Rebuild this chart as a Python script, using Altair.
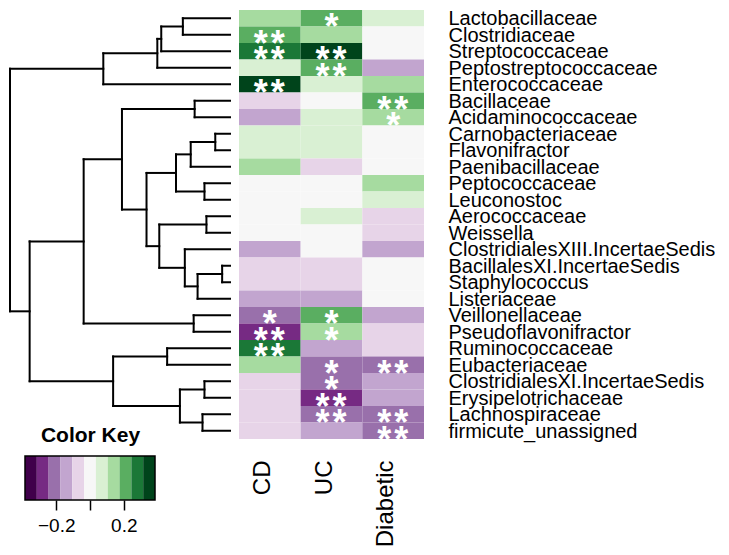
import altair as alt
import pandas as pd

FONT = "Liberation Sans"

rows = ["Lactobacillaceae", "Clostridiaceae", "Streptococcaceae", "Peptostreptococcaceae",
        "Enterococcaceae", "Bacillaceae", "Acidaminococcaceae", "Carnobacteriaceae",
        "Flavonifractor", "Paenibacillaceae", "Peptococcaceae", "Leuconostoc",
        "Aerococcaceae", "Weissella", "ClostridialesXIII.IncertaeSedis",
        "BacillalesXI.IncertaeSedis", "Staphylococcus", "Listeriaceae", "Veillonellaceae",
        "Pseudoflavonifractor", "Ruminococcaceae", "Eubacteriaceae",
        "ClostridialesXI.IncertaeSedis", "Erysipelotrichaceae", "Lachnospiraceae",
        "firmicute_unassigned"]
columns = ["CD", "UC", "Diabetic"]

cd_values = [0.14, 0.21, 0.28, 0.07, 0.35, -0.07, -0.14, 0.07, 0.07, 0.14, 0.0, 0.0, 0.0,
             0.0, -0.14, -0.07, -0.07, -0.14, -0.21, -0.28, 0.28, 0.14, -0.07, -0.07, -0.07, -0.07]
uc_values = [0.21, 0.14, 0.35, 0.21, 0.07, 0.0, 0.07, 0.07, 0.07, -0.07, 0.0, 0.0, 0.07,
             0.0, 0.0, -0.07, -0.07, -0.14, 0.21, 0.14, -0.14, -0.21, -0.21, -0.28, -0.21, -0.14]
diab_values = [0.07, 0.0, 0.0, -0.14, 0.14, 0.21, 0.14, 0.0, 0.0, 0.0, 0.14, 0.07, -0.07,
               -0.07, -0.14, 0.0, 0.0, 0.0, -0.14, -0.07, -0.07, -0.21, -0.14, -0.14, -0.21, -0.21]

cd_stars = ["", "**", "**", "", "**", "", "", "", "", "", "", "", "", "", "", "", "", "",
            "*", "**", "**", "", "", "", "", ""]
uc_stars = ["*", "", "**", "**", "", "", "", "", "", "", "", "", "", "", "", "", "", "",
            "*", "*", "", "*", "*", "**", "**", ""]
diab_stars = ["", "", "", "", "", "**", "*", "", "", "", "", "", "", "", "", "", "", "",
              "", "", "", "**", "", "", "**", "**"]

# dendrogram merges (scipy style: leaves 0..25, new clusters 26..)
merge_left = [0, 26, 27, 28, 5, 7, 31, 10, 32, 12, 15, 36, 14, 35, 34, 30, 18, 41, 20, 22, 24, 45, 44, 43, 29]
merge_right = [1, 2, 3, 4, 6, 8, 9, 11, 33, 13, 16, 17, 37, 38, 39, 40, 19, 42, 21, 23, 25, 46, 47, 48, 49]
merge_height = [0.48, 0.70, 0.74, 1.29, 0.36, 0.15, 0.40, 0.26, 0.55, 0.24, 0.08, 0.33, 0.46,
                0.72, 0.85, 1.10, 0.37, 1.49, 0.64, 0.26, 0.28, 0.51, 1.19, 2.04, 2.24]

key_edges = [-0.385, -0.315, -0.245, -0.175, -0.105, -0.035, 0.035, 0.105, 0.175, 0.245, 0.315, 0.385]
key_ticks = [-0.2, 0.0, 0.2]

PRGN = ["#40004b", "#762a83", "#9970ab", "#c2a5cf", "#e7d4e8", "#f7f7f7",
        "#d9f0d3", "#a6dba0", "#5aae61", "#1b7837", "#00441b"]
color_scale = alt.Scale(type="threshold", domain=key_edges[1:-1], range=PRGN)

# ---------- heatmap data ----------
recs = []
for col, vals, stars in [("CD", cd_values, cd_stars), ("UC", uc_values, uc_stars),
                         ("Diabetic", diab_values, diab_stars)]:
    for r, v, s in zip(rows, vals, stars):
        recs.append({"row": r, "col": col, "value": v, "stars": s})
heat_df = pd.DataFrame(recs)

# ---------- dendrogram segments ----------
n = len(rows)
pos = {i: i + 1 for i in range(n)}
hgt = {i: 0.0 for i in range(n)}
segs = []
for k, (a, b, h) in enumerate(zip(merge_left, merge_right, merge_height)):
    ya, yb = pos[a], pos[b]
    segs.append({"x": h, "x2": h, "y": ya, "y2": yb})
    segs.append({"x": hgt[a], "x2": h, "y": ya, "y2": ya})
    segs.append({"x": hgt[b], "x2": h, "y": yb, "y2": yb})
    pos[n + k] = (ya + yb) / 2
    hgt[n + k] = h
seg_df = pd.DataFrame(segs)

DW, H = 220, 429
dendro_lines = alt.Chart(seg_df).mark_rule(color="black", strokeWidth=2, strokeCap="square").encode(
    x=alt.X("x:Q", scale=alt.Scale(domain=[0, max(merge_height)], reverse=True, nice=False, zero=False), axis=None),
    x2="x2:Q",
    y=alt.Y("y:Q", scale=alt.Scale(domain=[0.5, n + 0.5], reverse=True, nice=False, zero=False), axis=None),
    y2="y2:Q",
)
key_title = alt.Chart(pd.DataFrame({"t": ["Color Key"]})).mark_text(
    font=FONT, fontSize=21, fontWeight="bold", align="center", baseline="alphabetic", color="black"
).encode(x=alt.value(80.5), y=alt.value(432), text="t:N")
dendro = alt.layer(dendro_lines, key_title).properties(width=DW, height=H)

# ---------- color key ----------
key_df = pd.DataFrame({"lo": key_edges[:-1], "hi": key_edges[1:]})
key_df["mid"] = (key_df["lo"] + key_df["hi"]) / 2
key_x_scale = alt.Scale(domain=[key_edges[0], key_edges[-1]], range=[15, 145], nice=False, zero=False)
key_axis = alt.Axis(orient="bottom", values=key_ticks,
                    labelExpr="datum.value == 0 ? '' : datum.label",
                    format=".1f", tickSize=10, tickWidth=1.5, tickColor="black",
                    domain=False, grid=False, labelFontSize=19, labelColor="black",
                    labelFont=FONT, labelPadding=6, title=None)

key_rects = alt.Chart(key_df).mark_rect().encode(
    x=alt.X("lo:Q", scale=key_x_scale, axis=key_axis),
    x2="hi:Q",
    color=alt.Color("mid:Q", scale=color_scale, legend=None),
)
key_border = alt.Chart(pd.DataFrame({"lo": [key_edges[0]], "hi": [key_edges[-1]]})).mark_rect(
    fillOpacity=0, stroke="black", strokeWidth=1.5
).encode(
    x=alt.X("lo:Q", scale=key_x_scale, axis=key_axis),
    x2="hi:Q",
)
key = alt.layer(key_rects, key_border).properties(width=DW, height=44)

left = alt.vconcat(dendro, key, spacing=9)

# ---------- heatmap ----------
HW = 185
base = alt.Chart(heat_df).encode(
    x=alt.X("col:N", sort=columns, scale=alt.Scale(paddingInner=0, paddingOuter=0),
            axis=alt.Axis(orient="bottom", labelAngle=270, labelAlign="right",
                          labelBaseline="alphabetic", labelFontSize=24, labelPadding=21,
                          ticks=False, domain=False, title=None, labelColor="black",
                          labelFont=FONT)),
    y=alt.Y("row:N", sort=rows, scale=alt.Scale(paddingInner=0, paddingOuter=0),
            axis=alt.Axis(orient="right", labelFontSize=20, labelPadding=24, ticks=False,
                          domain=False, title=None, labelLimit=0, labelColor="black",
                          labelFont=FONT, labelBaseline="alphabetic", labelOffset=7)),
)
cells = base.mark_rect(strokeWidth=0).encode(color=alt.Color("value:Q", scale=color_scale, legend=None))
star_style = dict(color="white", fontSize=36, fontWeight="bold", font=FONT,
                  baseline="middle", align="center", dy=10)
one_star = base.transform_filter("datum.stars == '*'").mark_text(**star_style).encode(text=alt.value("*"))
two_a = base.transform_filter("datum.stars == '**'").mark_text(dx=-9, **star_style).encode(text=alt.value("*"))
two_b = base.transform_filter("datum.stars == '**'").mark_text(dx=8, **star_style).encode(text=alt.value("*"))
heat = alt.layer(cells, one_star, two_a, two_b).properties(width=HW, height=H)

chart = alt.hconcat(left, heat, spacing=7).properties(
    padding={"left": 0, "top": 0, "right": 0, "bottom": 0}
).configure(font=FONT).configure_view(strokeWidth=0, stroke="transparent")

chart.save("out.html", embed_options={"renderer": "svg", "actions": False})
